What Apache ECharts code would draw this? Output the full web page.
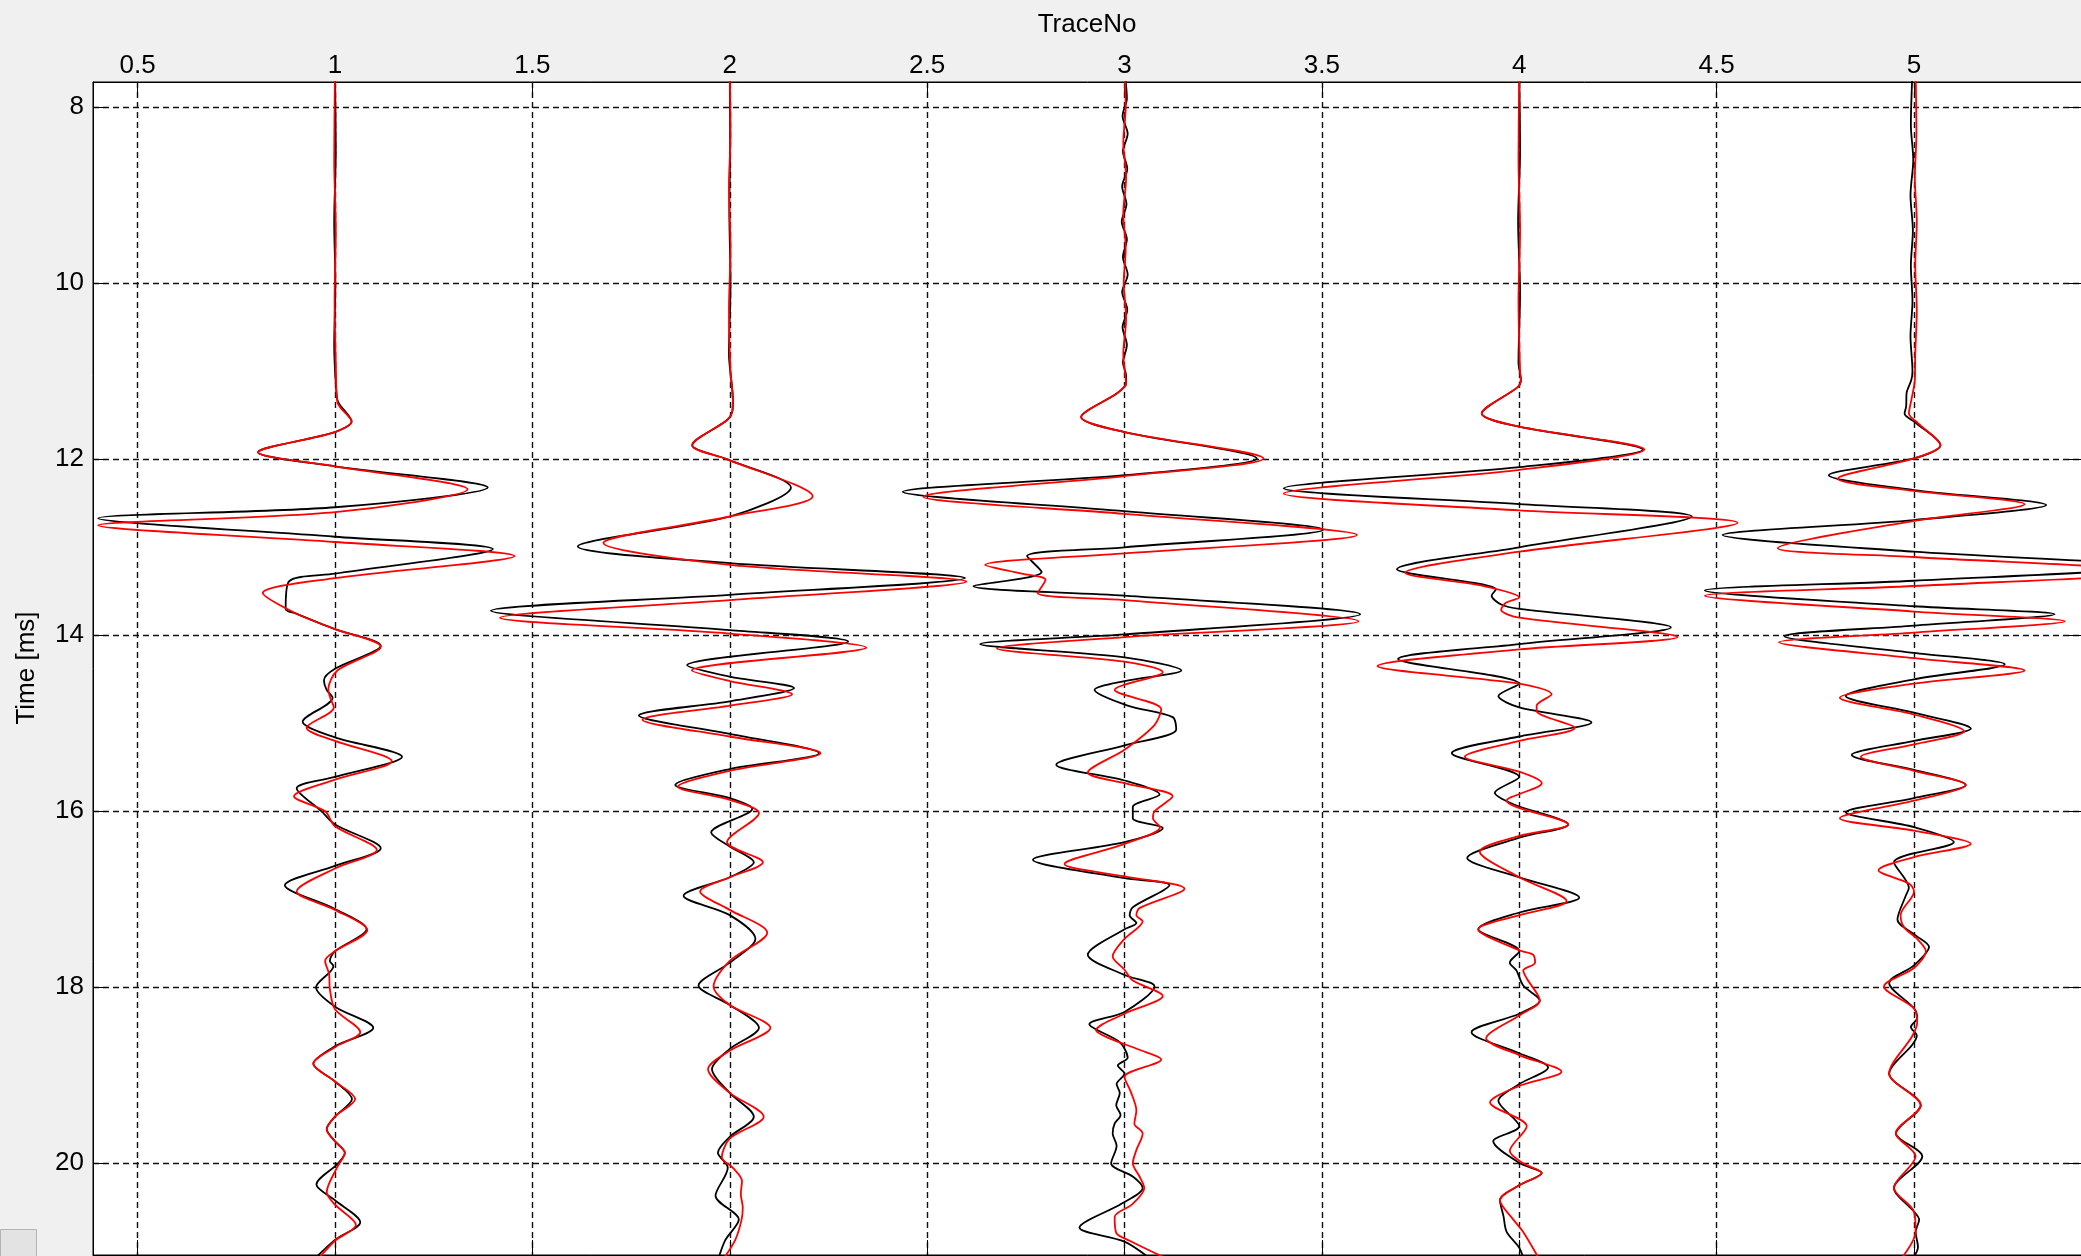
<!DOCTYPE html>
<html><head><meta charset="utf-8">
<script src="https://cdn.jsdelivr.net/npm/echarts@6/dist/echarts.min.js"></script>
<style>html,body{margin:0;padding:0;background:#f0f0f0;overflow:hidden}#c{width:2081px;height:1256px}</style>
</head><body><div id="c"></div>
<script>
// tick labels
const xTicks = [0.5, 1, 1.5, 2, 2.5, 3, 3.5, 4, 4.5, 5];
const yTicks = [8, 10, 12, 14, 16, 18, 20];
const traceNos = [1, 2, 3, 4, 5];

// each point: [time ms, amplitude offset from trace number]
const trace1Black = [[7.6,0],[8.5,0.002],[9.3,-0.002],[10.0,0.001],[10.7,-0.002],[11.2,0.003],[11.35,0.008],[11.57,0.042],[11.69,0],[11.92,-0.195],[12.08,0],[12.32,0.387],[12.545,0],[12.67,-0.6],[12.88,0],[13.02,0.40],[13.30,0],[13.39,-0.117],[13.70,-0.125],[13.75,-0.10],[13.93,0],[14.12,0.116],[14.38,0],[14.51,-0.028],[14.62,-0.021],[14.71,-0.006],[14.98,-0.082],[15.16,0],[15.38,0.17],[15.61,0],[15.74,-0.097],[16.0,-0.034],[16.15,0],[16.42,0.116],[16.62,0],[16.84,-0.127],[17.11,0],[17.34,0.08],[17.59,0],[17.70,-0.013],[17.76,-0.004],[18.0,-0.048],[18.22,0],[18.46,0.097],[18.67,0],[18.87,-0.055],[19.07,0],[19.27,0.043],[19.47,0],[19.61,-0.021],[19.75,0],[19.88,0.025],[20.0,0.008],[20.24,-0.047],[20.42,0],[20.67,0.064],[20.87,0],[21.1,-0.055]];
const trace1Red = [[7.6,0],[8.6,-0.002],[9.4,0.002],[10.2,-0.001],[10.9,0.002],[11.35,0.006],[11.57,0.042],[11.69,0],[11.92,-0.195],[12.08,0],[12.34,0.336],[12.6,0],[12.75,-0.6],[12.94,0],[13.10,0.455],[13.35,0],[13.52,-0.183],[13.75,-0.10],[13.93,0],[14.13,0.116],[14.40,0.006],[14.62,-0.017],[14.71,-0.012],[14.82,-0.003],[15.05,-0.072],[15.20,0],[15.43,0.144],[15.64,0],[15.83,-0.104],[16.0,-0.025],[16.17,0],[16.44,0.106],[16.65,0],[16.91,-0.097],[17.12,0],[17.35,0.082],[17.59,0],[17.70,-0.025],[17.85,-0.015],[18.02,-0.013],[18.25,0],[18.51,0.064],[18.68,0],[18.87,-0.055],[19.07,0],[19.27,0.051],[19.47,0],[19.62,-0.021],[19.75,0],[19.88,0.025],[20.05,0.005],[20.33,-0.021],[20.47,0],[20.70,0.053],[20.88,0],[21.1,-0.045]];

const trace2Black = [[7.6,0],[8.4,0.001],[9.2,-0.001],[10.0,0.002],[10.8,-0.002],[11.33,0.008],[11.44,0.007],[11.55,-0.006],[11.84,-0.095],[12.0,-0.006],[12.32,0.155],[12.65,0],[12.99,-0.385],[13.18,0],[13.35,0.596],[13.54,0],[13.72,-0.605],[13.94,0],[14.07,0.30],[14.34,-0.108],[14.47,0],[14.60,0.163],[14.75,0],[14.91,-0.23],[15.12,0],[15.34,0.226],[15.52,0],[15.70,-0.138],[15.85,0],[15.97,0.057],[16.24,-0.047],[16.40,0],[16.58,0.061],[16.75,0],[16.96,-0.117],[17.18,0],[17.45,0.065],[17.72,0],[17.98,-0.079],[18.2,0],[18.46,0.074],[18.7,0],[18.93,-0.045],[19.2,0],[19.47,0.061],[19.70,0],[19.88,-0.03],[20.05,-0.005],[20.37,-0.036],[20.64,0.023],[20.87,-0.011],[21.1,-0.03]];
const trace2Red = [[7.6,0],[8.3,0.002],[8.9,-0.002],[9.6,0.002],[10.3,-0.002],[11.0,0.002],[11.33,0.008],[11.44,0.007],[11.55,-0.006],[11.84,-0.095],[12.0,-0.006],[12.42,0.21],[12.65,0],[12.95,-0.32],[13.20,0],[13.39,0.60],[13.60,0],[13.80,-0.582],[13.98,0],[14.14,0.346],[14.40,-0.096],[14.52,0],[14.67,0.158],[14.80,0],[14.96,-0.221],[15.15,0],[15.34,0.23],[15.54,0],[15.72,-0.131],[15.87,0],[16.02,0.074],[16.35,-0.007],[16.58,0.084],[16.75,0],[16.91,-0.075],[17.12,0],[17.38,0.095],[17.70,0],[17.99,-0.041],[18.2,0],[18.46,0.103],[18.72,0],[18.93,-0.055],[19.2,0],[19.47,0.086],[19.72,0],[19.93,-0.02],[20.06,0.01],[20.2,0.031],[20.35,0.028],[20.5,0.033],[20.64,0.03],[20.87,0.014],[21.1,-0.018]];

const trace3Black = [[7.6,0],[7.9,0.006],[8.1,-0.005],[8.3,0.008],[8.5,-0.004],[8.7,0.007],[8.9,-0.006],[9.1,0.005],[9.3,-0.007],[9.5,0.006],[9.7,-0.004],[9.9,0.008],[10.1,-0.006],[10.3,0.007],[10.5,-0.005],[10.7,0.006],[10.9,-0.004],[11.05,0.004],[11.14,0.004],[11.25,-0.019],[11.52,-0.11],[11.69,0],[11.99,0.335],[12.18,0],[12.37,-0.562],[12.59,0],[12.80,0.504],[13.0,0],[13.10,-0.247],[13.28,-0.21],[13.44,-0.383],[13.55,0],[13.76,0.597],[13.99,0],[14.10,-0.366],[14.25,0],[14.40,0.144],[14.52,0],[14.62,-0.076],[14.80,0.008],[14.93,0.122],[15.07,0.131],[15.25,0],[15.47,-0.173],[15.65,0],[15.81,0.089],[15.95,0.021],[16.08,0.021],[16.19,0.097],[16.35,0],[16.55,-0.232],[16.76,0],[16.84,0.114],[17.09,0.021],[17.18,0.013],[17.27,0.03],[17.34,0],[17.63,-0.093],[17.86,0],[17.99,0.076],[18.28,0],[18.42,-0.089],[18.62,-0.013],[18.80,0.008],[18.89,-0.017],[18.98,0],[19.1,-0.02],[19.2,-0.012],[19.34,-0.021],[19.45,-0.01],[19.55,-0.025],[19.66,-0.03],[19.8,-0.02],[20.0,-0.034],[20.15,0.021],[20.28,0.046],[20.46,-0.008],[20.73,-0.114],[20.89,0],[21.1,0.07]];
const trace3Red = [[7.6,0],[8.0,0.003],[8.4,-0.003],[8.8,0.004],[9.2,-0.003],[9.6,0.003],[10.0,-0.002],[10.4,0.004],[10.8,-0.003],[11.05,0.002],[11.14,0.004],[11.25,-0.019],[11.52,-0.11],[11.69,0],[11.99,0.352],[12.19,0],[12.425,-0.51],[12.62,0],[12.86,0.589],[13.07,0],[13.20,-0.353],[13.30,-0.26],[13.37,-0.20],[13.52,-0.22],[13.60,0],[13.84,0.593],[14.02,0],[14.15,-0.323],[14.30,0],[14.42,0.097],[14.62,-0.025],[14.84,0.093],[15.02,0.076],[15.30,0],[15.56,-0.093],[15.68,0],[15.83,0.122],[16.0,0.076],[16.08,0.072],[16.18,0.09],[16.37,0],[16.60,-0.152],[16.74,0],[16.88,0.152],[17.1,0.038],[17.18,0.03],[17.25,0.046],[17.45,0],[17.65,-0.03],[17.80,0],[17.92,0.02],[18.10,0.097],[18.30,0],[18.49,-0.072],[18.58,-0.038],[18.71,0.038],[18.82,0.093],[19.02,0],[19.2,0.017],[19.4,0.03],[19.55,0.025],[19.66,0.046],[19.85,0.03],[20.0,0.021],[20.15,0.038],[20.28,0.05],[20.46,0.021],[20.61,-0.025],[20.79,-0.021],[20.88,0.013],[21.1,0.115]];

const trace4Black = [[7.6,0],[8.5,0.002],[9.3,-0.003],[10.1,0.002],[10.9,-0.002],[11.10,0.004],[11.18,-0.004],[11.48,-0.095],[11.63,0],[11.89,0.313],[12.09,0],[12.33,-0.597],[12.51,0],[12.65,0.437],[13.0,0],[13.25,-0.31],[13.48,-0.059],[13.55,-0.07],[13.65,-0.046],[13.70,0],[13.91,0.384],[14.10,0],[14.27,-0.307],[14.55,0],[14.69,-0.053],[14.82,0],[14.99,0.183],[15.15,0],[15.34,-0.171],[15.61,0],[15.79,-0.062],[15.92,-0.015],[16.15,0.124],[16.30,0],[16.53,-0.132],[16.75,0],[16.98,0.152],[17.15,0],[17.34,-0.104],[17.59,0],[17.72,-0.024],[17.81,-0.007],[17.98,0.01],[18.15,0.052],[18.30,0],[18.51,-0.121],[18.75,0],[18.91,0.073],[19.10,0],[19.29,-0.053],[19.58,0],[19.75,-0.066],[20.0,0.002],[20.11,0.057],[20.25,0],[20.42,-0.049],[20.60,-0.04],[20.78,-0.032],[20.96,0],[21.1,0.012]];
const trace4Red = [[7.6,0],[8.6,-0.002],[9.4,0.002],[10.2,-0.002],[11.0,0.002],[11.10,0.004],[11.18,-0.004],[11.48,-0.095],[11.63,0],[11.89,0.317],[12.12,0],[12.39,-0.597],[12.58,0],[12.72,0.553],[13.05,0],[13.29,-0.289],[13.44,-0.09],[13.57,0],[13.63,-0.034],[13.71,-0.046],[13.80,0],[14.02,0.401],[14.16,0],[14.35,-0.359],[14.55,0],[14.67,0.082],[14.80,0.044],[14.86,0.044],[15.05,0.141],[15.20,0],[15.38,-0.138],[15.55,0],[15.68,0.057],[15.88,-0.032],[16.15,0.124],[16.28,0],[16.46,-0.10],[16.75,0],[17.02,0.12],[17.18,0],[17.34,-0.104],[17.58,0],[17.63,0.035],[17.72,0.04],[17.81,0.01],[17.90,0.019],[18.15,0.052],[18.32,0],[18.58,-0.084],[18.77,0],[18.96,0.107],[19.12,0],[19.31,-0.074],[19.58,0.019],[19.86,-0.024],[20.0,0.01],[20.11,0.057],[20.25,0],[20.42,-0.049],[20.64,-0.015],[20.78,0.01],[21.1,0.052]];

const trace5Black = [[7.6,-0.004],[8.2,-0.008],[8.6,-0.002],[9.0,-0.009],[9.4,-0.003],[9.8,-0.008],[10.2,-0.004],[10.6,-0.009],[11.0,-0.004],[11.10,-0.007],[11.25,-0.019],[11.40,-0.02],[11.48,-0.024],[11.59,0.006],[11.84,0.067],[11.99,0],[12.18,-0.216],[12.35,0],[12.52,0.335],[12.69,0],[12.86,-0.485],[13.05,0],[13.22,0.60],[13.38,0],[13.49,-0.53],[13.67,0],[13.76,0.356],[13.89,0],[14.01,-0.328],[14.20,0],[14.33,0.23],[14.50,0],[14.69,-0.173],[14.88,0],[15.06,0.144],[15.20,0],[15.36,-0.158],[15.53,0],[15.70,0.131],[15.85,0],[16.01,-0.173],[16.18,0],[16.35,0.101],[16.58,-0.051],[16.87,-0.013],[16.96,-0.021],[17.23,-0.042],[17.41,0.004],[17.54,0.038],[17.75,0],[17.95,-0.063],[18.24,0],[18.35,0.008],[18.45,-0.008],[18.55,0.007],[18.65,-0.004],[18.98,-0.063],[19.34,0.017],[19.66,-0.046],[19.92,0.021],[20.28,-0.051],[20.55,0],[20.64,0.013],[20.78,0.004],[20.95,0.01],[21.1,-0.006]];
const trace5Red = [[7.6,0.004],[8.3,0.006],[8.8,0.002],[9.3,0.007],[9.8,0.003],[10.3,0.007],[10.8,0.003],[11.10,0.002],[11.33,-0.007],[11.48,-0.013],[11.59,0.01],[11.84,0.067],[11.99,0],[12.22,-0.193],[12.36,0],[12.51,0.28],[12.70,0],[13.01,-0.345],[13.11,0],[13.28,0.62],[13.44,0],[13.55,-0.53],[13.73,0],[13.84,0.382],[13.97,0],[14.08,-0.342],[14.26,0],[14.40,0.28],[14.55,0],[14.71,-0.188],[14.90,0],[15.09,0.127],[15.24,0],[15.38,-0.135],[15.54,0],[15.70,0.131],[15.88,0],[16.08,-0.188],[16.22,0],[16.37,0.144],[16.52,0],[16.67,-0.09],[16.82,-0.013],[16.91,0],[17.18,-0.034],[17.32,-0.025],[17.45,0.008],[17.59,0.03],[17.78,0],[17.99,-0.076],[18.24,0],[18.40,0.008],[18.55,-0.004],[18.98,-0.063],[19.34,0.017],[19.66,-0.046],[19.92,0.004],[20.28,-0.051],[20.55,0],[20.78,0.004],[21.1,-0.035]];

const blackTraces = [trace1Black, trace2Black, trace3Black, trace4Black, trace5Black];
const redTraces = [trace1Red, trace2Red, trace3Red, trace4Red, trace5Red];

const FONT = 'Liberation Sans';
const chart = echarts.init(document.getElementById('c'), null, {renderer: 'canvas'});

function toSeries(list, color) {
  return list.map((pts, i) => ({
    type: 'line',
    xAxisIndex: 0, yAxisIndex: 0,
    data: pts.map(p => [traceNos[i] + p[1], p[0]]),
    smooth: 0.3,
    showSymbol: false,
    symbol: 'none',
    lineStyle: {color: color, width: 1.8},
    silent: true,
    animation: false,
    clip: true
  }));
}

const tickStyle = {show: true, inside: true, length: 15, lineStyle: {color: '#000', width: 1}};
const lineAxis = {show: true, onZero: false, lineStyle: {color: '#000', width: 1}};
const xMin = 0.387, xMax = 5.428, yMin = 7.7125, yMax = 21.042;
const gridLine = {show: true, lineStyle: {color: '#111', width: 1.4, type: [6, 4]}};

chart.setOption({
  backgroundColor: '#f0f0f0',
  animation: false,
  grid: {left: 93, top: 82, width: 1990, height: 1173, show: true, backgroundColor: '#ffffff', borderColor: '#000', borderWidth: 1, containLabel: false, outerBoundsMode: 'none'},
  xAxis: [
    {type: 'value', position: 'top', min: xMin, max: xMax,
     axisLine: lineAxis,
     axisTick: Object.assign({customValues: xTicks}, tickStyle),
     axisLabel: {customValues: xTicks, color: '#000', fontFamily: FONT, fontSize: 26, margin: 3, showMinLabel: true, showMaxLabel: true},
     splitLine: gridLine},
    {type: 'value', position: 'bottom', min: xMin, max: xMax,
     axisLine: lineAxis,
     axisTick: Object.assign({customValues: xTicks}, tickStyle),
     axisLabel: {show: false}, splitLine: {show: false}}
  ],
  yAxis: [
    {type: 'value', inverse: true, position: 'left', min: yMin, max: yMax,
     axisLine: lineAxis,
     axisTick: Object.assign({customValues: yTicks}, tickStyle),
     axisLabel: {customValues: yTicks, color: '#000', fontFamily: FONT, fontSize: 26, margin: 9},
     splitLine: gridLine},
    {type: 'value', inverse: true, position: 'right', min: yMin, max: yMax,
     axisLine: lineAxis,
     axisTick: Object.assign({customValues: yTicks}, tickStyle),
     axisLabel: {show: false}, splitLine: {show: false}}
  ],
  graphic: [
    {type: 'text', x: 1087, y: 24.5, style: {text: 'TraceNo', fontFamily: FONT, fontSize: 26, fill: '#000', align: 'center', verticalAlign: 'middle'}},
    {type: 'text', x: 27, y: 668, rotation: Math.PI / 2, style: {text: 'Time [ms]', fontFamily: FONT, fontSize: 26, fill: '#000', align: 'center', verticalAlign: 'middle'}},
    {type: 'rect', shape: {x: 0.5, y: 1229.5, width: 36, height: 30}, style: {fill: '#e3e3e3', stroke: '#b4b4b4', lineWidth: 1}}
  ],
  series: toSeries(blackTraces, '#000000').concat(toSeries(redTraces, '#ff0000'))
});
</script></body></html>
